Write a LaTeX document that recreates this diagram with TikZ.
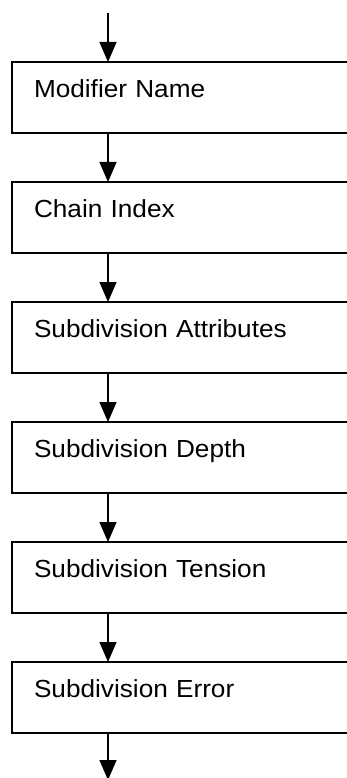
\documentclass[tikz,border=0pt]{standalone}
\usepackage{fontspec}
\newfontfamily\boxfont[FakeStretch=1.06]{Liberation Sans}
\usepackage{tikz}
\usetikzlibrary{arrows.meta,positioning}

\begin{document}
\begin{tikzpicture}[
node distance=49pt,
box/.style={draw, line width=1.5pt, inner xsep=22pt, inner ysep=0pt, outer sep=0pt,
  text width=304pt, align=left, text height=35.7pt, text depth=35.3pt,
  font=\boxfont\fontsize{24.7pt}{30pt}\selectfont},
arr/.style={-{Triangle[width=17pt, length=20pt]}, line width=1.3pt}
]
\useasboundingbox (0,0) rectangle (347pt,-778pt);
\clip (0,0) rectangle (347pt,-778pt);

\node[box, anchor=north west] (mod) at (12pt,-62pt) {Modifier Name};
\node[box, below=of mod] (chain) {Chain Index};
\node[box, below=of chain] (attr) {Subdivision Attributes};
\node[box, below=of attr] (depth) {Subdivision Depth};
\node[box, below=of depth] (tens) {Subdivision Tension};
\node[box, below=of tens] (err) {Subdivision Error};

\coordinate (in) at (108pt,-13pt);
\coordinate (out) at (108pt,-780pt);

\draw[arr] (in) -- ([xshift=96pt]mod.north west);
\draw[arr] ([xshift=96pt]mod.south west) -- ([xshift=96pt]chain.north west);
\draw[arr] ([xshift=96pt]chain.south west) -- ([xshift=96pt]attr.north west);
\draw[arr] ([xshift=96pt]attr.south west) -- ([xshift=96pt]depth.north west);
\draw[arr] ([xshift=96pt]depth.south west) -- ([xshift=96pt]tens.north west);
\draw[arr] ([xshift=96pt]tens.south west) -- ([xshift=96pt]err.north west);
\draw[arr] ([xshift=96pt]err.south west) -- (out);
\end{tikzpicture}
\end{document}
